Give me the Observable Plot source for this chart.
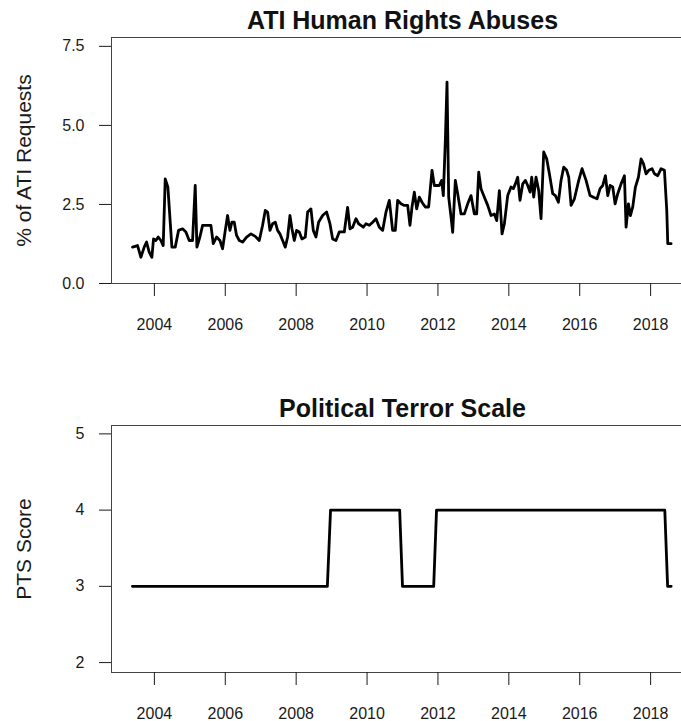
<!DOCTYPE html>
<html><head><meta charset="utf-8">
<script src="https://cdn.jsdelivr.net/npm/d3@7"></script>
<script src="https://cdn.jsdelivr.net/npm/@observablehq/plot@0.6"></script>
<style>
body{margin:0;background:#fff;}
#wrap{width:681px;height:721px;overflow:hidden;position:relative;background:#fff;}
#wrap svg{display:block;}
</style></head><body><div id="wrap"></div>
<script>
// ATI: % of ATI requests about human rights abuses (monthly)
const atiYear = [2003.384,2003.525,2003.619,2003.713,2003.779,2003.854,2003.929,2003.976,2004.042,2004.108,2004.183,2004.249,2004.306,2004.381,2004.437,2004.494,2004.588,2004.682,2004.795,2004.889,2004.983,2005.077,2005.152,2005.200,2005.284,2005.360,2005.454,2005.595,2005.661,2005.755,2005.849,2005.924,2006.000,2006.065,2006.131,2006.187,2006.253,2006.319,2006.395,2006.489,2006.601,2006.724,2006.846,2006.959,2007.053,2007.128,2007.194,2007.260,2007.335,2007.411,2007.476,2007.542,2007.618,2007.693,2007.759,2007.825,2007.881,2007.947,2008.012,2008.088,2008.163,2008.257,2008.323,2008.417,2008.483,2008.558,2008.633,2008.746,2008.859,2008.953,2009.029,2009.123,2009.217,2009.358,2009.452,2009.518,2009.593,2009.687,2009.762,2009.828,2009.894,2009.970,2010.064,2010.158,2010.252,2010.346,2010.440,2010.534,2010.628,2010.722,2010.797,2010.863,2010.957,2011.052,2011.146,2011.211,2011.268,2011.334,2011.400,2011.475,2011.550,2011.644,2011.738,2011.832,2011.898,2011.964,2012.039,2012.105,2012.152,2012.209,2012.256,2012.303,2012.369,2012.416,2012.491,2012.557,2012.651,2012.745,2012.839,2012.933,2013.027,2013.093,2013.150,2013.215,2013.310,2013.404,2013.498,2013.592,2013.658,2013.733,2013.808,2013.874,2013.968,2014.062,2014.128,2014.185,2014.250,2014.316,2014.392,2014.467,2014.533,2014.599,2014.646,2014.702,2014.768,2014.843,2014.909,2014.984,2015.069,2015.144,2015.238,2015.314,2015.398,2015.473,2015.549,2015.633,2015.690,2015.756,2015.850,2015.972,2016.066,2016.179,2016.292,2016.386,2016.489,2016.574,2016.650,2016.725,2016.791,2016.857,2016.932,2016.998,2017.073,2017.167,2017.261,2017.308,2017.374,2017.430,2017.496,2017.571,2017.656,2017.731,2017.797,2017.872,2017.948,2018.042,2018.108,2018.202,2018.296,2018.390,2018.456,2018.484,2018.578];
const atiPct = [1.15,1.20,0.83,1.15,1.31,0.99,0.83,1.41,1.36,1.47,1.36,1.20,3.31,3.05,2.10,1.15,1.15,1.68,1.73,1.63,1.36,1.36,3.10,1.15,1.47,1.84,1.84,1.84,1.26,1.47,1.36,1.10,1.68,2.15,1.68,1.94,1.94,1.52,1.36,1.31,1.47,1.57,1.49,1.36,1.84,2.31,2.26,1.68,1.89,1.94,1.68,1.57,1.36,1.15,1.47,2.15,1.73,1.36,1.68,1.63,1.41,1.47,2.26,2.36,1.68,1.47,1.94,2.15,2.26,1.89,1.41,1.36,1.63,1.63,2.41,1.73,1.78,2.05,1.89,1.84,1.78,1.89,1.84,1.94,2.05,1.78,1.68,2.26,2.63,1.68,1.68,2.63,2.52,2.47,2.47,1.84,2.42,2.89,2.36,2.73,2.57,2.42,2.42,3.58,3.10,3.10,3.10,3.26,2.78,4.53,6.37,2.73,2.10,1.62,3.26,2.84,2.20,2.20,2.52,2.78,2.20,2.20,3.52,3.00,2.73,2.47,2.15,2.20,1.99,2.94,1.57,1.89,2.78,3.05,3.00,3.15,3.36,2.63,3.15,3.26,3.10,2.89,3.36,2.73,3.36,2.94,2.05,4.16,3.94,3.47,2.84,2.78,2.57,3.26,3.68,3.58,3.36,2.47,2.68,3.26,3.63,3.26,2.78,2.73,2.68,3.00,3.10,3.41,2.78,3.10,3.05,2.52,2.84,3.15,3.41,1.78,2.52,2.15,2.42,3.05,3.36,3.94,3.79,3.47,3.58,3.63,3.47,3.41,3.63,3.58,2.31,1.26,1.26];

// Political Terror Scale score
const ptsYear  = [2003.38, 2008.88, 2008.97, 2010.92, 2011.00, 2011.88, 2011.96, 2018.40, 2018.48, 2018.58];
const ptsScore = [3, 3, 4, 4, 3, 3, 4, 4, 3, 3];

const yearTicks = [2004, 2006, 2008, 2010, 2012, 2014, 2016, 2018];
const atiTicks = [0, 2.5, 5, 7.5];
const ptsTicks = [2, 3, 4, 5];
const titles = ["ATI Human Rights Abuses", "Political Terror Scale"];
const yLabels = ["% of ATI Requests", "PTS Score"];

const ati = atiYear.map((y, i) => ({year: y, value: atiPct[i]}));
const pts = ptsYear.map((y, i) => ({year: y, value: ptsScore[i]}));

function panel({data, yDomain, yTicks, yFormat, title, ylab, height, marginTop, marginBottom}) {
  return Plot.plot({
    width: 693, height, marginLeft: 111, marginRight: 0, marginTop, marginBottom,
    style: {fontFamily: "'Liberation Sans', Arial, sans-serif", fontSize: "16px", color: "#1a1a1a", background: "white", maxWidth: "none", overflow: "visible"},
    x: {domain: [2002.79, 2019.21]},
    y: {domain: yDomain},
    marks: [
      Plot.frame({stroke: "#444"}),
      Plot.axisX({ticks: yearTicks, tickFormat: d => String(d), tickSize: 13, tickPadding: 22, label: null}),
      Plot.axisY({ticks: yTicks, tickFormat: yFormat, tickSize: 12, tickPadding: 15, label: null}),
      Plot.line(data, {x: "year", y: "value", stroke: "black", strokeWidth: 2.8, strokeLinejoin: "round"}),
      Plot.text([title], {text: d => d, frameAnchor: "top", lineAnchor: "middle", textAnchor: "middle", dy: -17, fontSize: 25, fontWeight: "bold", fill: "#111"}),
      Plot.text([ylab], {text: d => d, frameAnchor: "left", lineAnchor: "middle", textAnchor: "middle", dx: -87, rotate: -90, fontSize: 21, fill: "#1a1a1a"})
    ]
  });
}

const wrap = document.getElementById("wrap");
wrap.appendChild(panel({data: ati, yDomain: [0, 7.78], yTicks: atiTicks, yFormat: d3.format(".1f"), title: titles[0], ylab: yLabels[0], height: 360, marginTop: 37, marginBottom: 77}));
wrap.appendChild(panel({data: pts, yDomain: [1.87, 5.11], yTicks: ptsTicks, yFormat: d3.format("d"), title: titles[1], ylab: yLabels[1], height: 361, marginTop: 65, marginBottom: 49}));
</script></body></html>
